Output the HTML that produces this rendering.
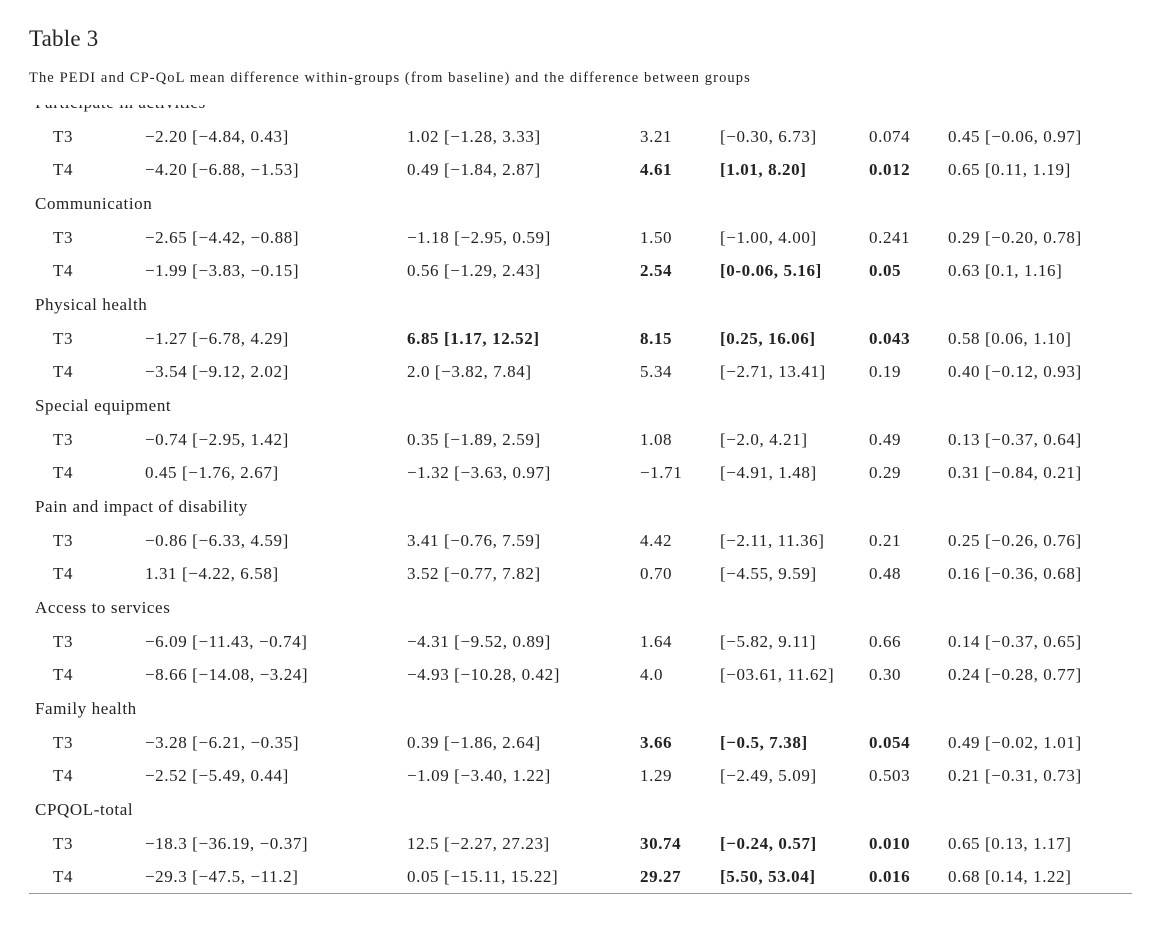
<!DOCTYPE html>
<html><head><meta charset="utf-8"><style>
body{margin:0;width:1152px;height:934px;background:#fff;position:relative;overflow:hidden;font-family:"Liberation Serif",serif;color:#222;}
.t{position:absolute;white-space:nowrap;font-size:17px;letter-spacing:0.6px;line-height:20px;}
.b{font-weight:bold;}
#clip{position:absolute;left:0;top:105px;width:1152px;height:829px;overflow:hidden;}
</style></head><body>
<div class="t" style="left:29px;top:25px;font-size:23px;letter-spacing:0.2px;line-height:28px">Table 3</div>
<div class="t" style="left:29px;top:68px;font-size:14.5px;letter-spacing:1.1px">The PEDI and CP-QoL mean difference within-groups (from baseline) and the difference between groups</div>
<div id="clip">
<div id="rows"></div>
<div style="position:absolute;left:29px;top:788px;width:1103px;height:1px;background:#999"></div>
</div>
<script>
const data=[
["Participate in activities",[["T3","−2.20 [−4.84, 0.43]","1.02 [−1.28, 3.33]","3.21","[−0.30, 6.73]","0.074","0.45 [−0.06, 0.97]",[]],["T4","−4.20 [−6.88, −1.53]","0.49 [−1.84, 2.87]","4.61","[1.01, 8.20]","0.012","0.65 [0.11, 1.19]",[3,4,5]]]],
["Communication",[["T3","−2.65 [−4.42, −0.88]","−1.18 [−2.95, 0.59]","1.50","[−1.00, 4.00]","0.241","0.29 [−0.20, 0.78]",[]],["T4","−1.99 [−3.83, −0.15]","0.56 [−1.29, 2.43]","2.54","[0-0.06, 5.16]","0.05","0.63 [0.1, 1.16]",[3,4,5]]]],
["Physical health",[["T3","−1.27 [−6.78, 4.29]","6.85 [1.17, 12.52]","8.15","[0.25, 16.06]","0.043","0.58 [0.06, 1.10]",[2,3,4,5]],["T4","−3.54 [−9.12, 2.02]","2.0 [−3.82, 7.84]","5.34","[−2.71, 13.41]","0.19","0.40 [−0.12, 0.93]",[]]]],
["Special equipment",[["T3","−0.74 [−2.95, 1.42]","0.35 [−1.89, 2.59]","1.08","[−2.0, 4.21]","0.49","0.13 [−0.37, 0.64]",[]],["T4","0.45 [−1.76, 2.67]","−1.32 [−3.63, 0.97]","−1.71","[−4.91, 1.48]","0.29","0.31 [−0.84, 0.21]",[]]]],
["Pain and impact of disability",[["T3","−0.86 [−6.33, 4.59]","3.41 [−0.76, 7.59]","4.42","[−2.11, 11.36]","0.21","0.25 [−0.26, 0.76]",[]],["T4","1.31 [−4.22, 6.58]","3.52 [−0.77, 7.82]","0.70","[−4.55, 9.59]","0.48","0.16 [−0.36, 0.68]",[]]]],
["Access to services",[["T3","−6.09 [−11.43, −0.74]","−4.31 [−9.52, 0.89]","1.64","[−5.82, 9.11]","0.66","0.14 [−0.37, 0.65]",[]],["T4","−8.66 [−14.08, −3.24]","−4.93 [−10.28, 0.42]","4.0","[−03.61, 11.62]","0.30","0.24 [−0.28, 0.77]",[]]]],
["Family health",[["T3","−3.28 [−6.21, −0.35]","0.39 [−1.86, 2.64]","3.66","[−0.5, 7.38]","0.054","0.49 [−0.02, 1.01]",[3,4,5]],["T4","−2.52 [−5.49, 0.44]","−1.09 [−3.40, 1.22]","1.29","[−2.49, 5.09]","0.503","0.21 [−0.31, 0.73]",[]]]],
["CPQOL-total",[["T3","−18.3 [−36.19, −0.37]","12.5 [−2.27, 27.23]","30.74","[−0.24, 0.57]","0.010","0.65 [0.13, 1.17]",[3,4,5]],["T4","−29.3 [−47.5, −11.2]","0.05 [−15.11, 15.22]","29.27","[5.50, 53.04]","0.016","0.68 [0.14, 1.22]",[3,4,5]]]]
];
const xs=[53,145,407,640,720,869,948];
const off=105;
let h="";
data.forEach((g,i)=>{
 const base=103+i*101-off;
 h+=`<div class="t" style="left:35px;top:${base-10}px">${g[0]}</div>`;
 g[1].forEach((r,j)=>{
  const y=base+34+j*33-10;
  for(let k=0;k<7;k++){
   h+=`<div class="t${r[7].includes(k)?' b':''}" style="left:${xs[k]}px;top:${y}px">${r[k]}</div>`;
  }
 });
});
document.getElementById('rows').innerHTML=h;
</script>
</body></html>
